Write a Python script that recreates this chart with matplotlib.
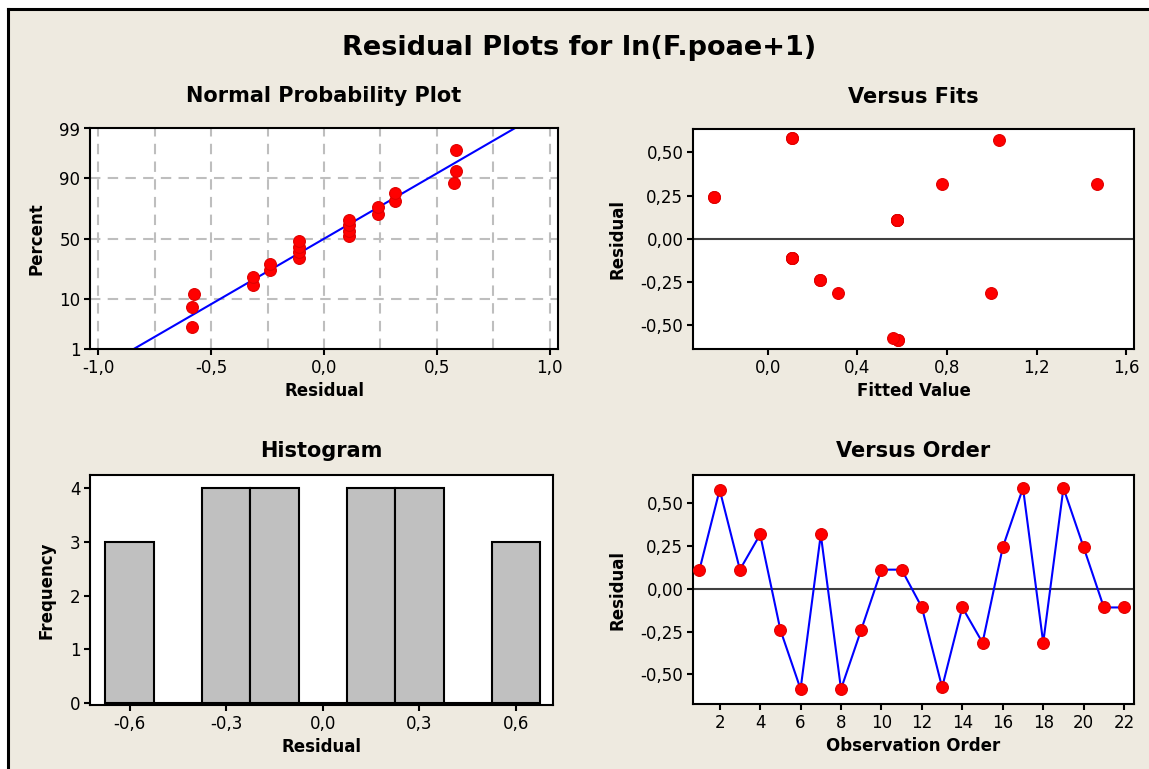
import math
import numpy as np
import matplotlib
matplotlib.use("Agg")
import matplotlib.pyplot as plt
from matplotlib.patches import Rectangle
from matplotlib.lines import Line2D
from matplotlib.ticker import FuncFormatter

# Residuals in observation order
residuals = [0.11, 0.575, 0.11, 0.315, -0.24, -0.585, 0.315, -0.585, -0.24, 0.11, 0.11,
             -0.11, -0.575, -0.11, -0.315, 0.24, 0.585, -0.315, 0.585, 0.24, -0.11, -0.11]
# Fitted values in observation order
fitted = [0.578, 1.033, 0.578, 0.776, 0.232, 0.581, 1.470, 0.581, 0.232, 0.578, 0.578,
          0.107, 0.557, 0.107, 0.312, -0.242, 0.107, 0.998, 0.107, -0.242, 0.107, 0.107]
observation = list(range(1, 23))

prob_ticks = [1, 10, 50, 90, 99]
hist_centers = [-0.6, -0.45, -0.3, -0.15, 0.0, 0.15, 0.3, 0.45, 0.6]

W, H = 1149, 769
BG = "#EEEAE0"
RED = "#FF0000"
BLUE = "#0000FF"

plt.rcParams["font.family"] = "DejaVu Sans"
plt.rcParams["axes.linewidth"] = 1.5


def norm_ppf(p):
    lo, hi = -10.0, 10.0
    for _ in range(100):
        mid = 0.5 * (lo + hi)
        if 0.5 * (1 + math.erf(mid / math.sqrt(2))) < p:
            lo = mid
        else:
            hi = mid
    return 0.5 * (lo + hi)


def comma(fmt):
    return FuncFormatter(lambda v, pos: format(v, fmt).replace(".", ",").replace("-0,00", "0,00"))


fig = plt.figure(figsize=(W / 100, H / 100), dpi=100, facecolor="white")

# panel background and frame
fig.add_artist(Rectangle((9 / W, 0), 1, 1 - 9 / H, transform=fig.transFigure,
                         facecolor=BG, edgecolor="none", zorder=-10))
fig.add_artist(Line2D([8 / W, 1], [1 - 8.5 / H, 1 - 8.5 / H], transform=fig.transFigure,
                      color="black", lw=2.2))
fig.add_artist(Line2D([8 / W, 8 / W], [0, 1 - 8.5 / H], transform=fig.transFigure,
                      color="black", lw=2.2))


def make_ax(l, t, r, b):
    ax = fig.add_axes([l / W, 1 - b / H, (r - l) / W, (b - t) / H])
    ax.set_facecolor("white")
    ax.tick_params(direction="out", length=4, width=1.5, labelsize=12, pad=3, color="black")
    return ax


LABEL = dict(fontsize=12, fontweight="bold")
TITLE = dict(fontsize=15, fontweight="bold")

fig.text(0.5 * (W + 9) / W, 1 - 55 / H, "Residual Plots for ln(F.poae+1)",
         ha="center", va="baseline", fontsize=19.5, fontweight="bold")

# ---------- Normal probability plot ----------
ax1 = make_ax(90, 128.5, 558, 349)
res = np.array(residuals)
n = len(res)
srt = np.sort(res)
ranks = np.arange(1, n + 1)
z_pts = np.array([norm_ppf((i - 0.3) / (n + 0.4)) for i in ranks])
z_lo, z_hi = norm_ppf(0.01), norm_ppf(0.99)
mu, sd = res.mean(), res.std(ddof=1)
for gx in np.arange(-1.0, 1.01, 0.25):
    ax1.axvline(gx, color="#BEBEBE", lw=1.5, ls=(0, (5, 3.5)), zorder=0)
for gp in [10, 50, 90]:
    ax1.axhline(norm_ppf(gp / 100), color="#BEBEBE", lw=1.5, ls=(0, (5, 3.5)), zorder=0)
zl = np.array([z_lo, z_hi])
ax1.plot(mu + sd * zl, zl, color=BLUE, lw=1.5, zorder=2)
ax1.plot(srt, z_pts, "o", ms=8.5, mfc=RED, mec="#E00000", mew=0.8, zorder=3)
ax1.set_xlim(-1.036, 1.036)
ax1.set_ylim(z_lo, z_hi)
ax1.set_yticks([norm_ppf(p / 100) for p in prob_ticks])
ax1.set_yticklabels([str(p) for p in prob_ticks])
ax1.set_xticks(np.arange(-1.0, 1.01, 0.5))
ax1.xaxis.set_major_formatter(comma(".1f"))
ax1.set_xlabel("Residual", labelpad=4, **LABEL)
ax1.set_ylabel("Percent", labelpad=10, **LABEL)
ax1.set_title("Normal Probability Plot", pad=19, **TITLE)

# ---------- Versus fits ----------
ax2 = make_ax(693, 129, 1134, 349)
ax2.axhline(0, color="#404040", lw=1.5, zorder=1)
ax2.plot(fitted, residuals, "o", ms=8.5, mfc=RED, mec="#E00000", mew=0.8, zorder=3)
ax2.set_xlim(-0.334, 1.634)
ax2.set_ylim(-0.64, 0.636)
ax2.set_xticks([0.0, 0.4, 0.8, 1.2, 1.6])
ax2.set_yticks([-0.5, -0.25, 0.0, 0.25, 0.5])
ax2.xaxis.set_major_formatter(comma(".1f"))
ax2.yaxis.set_major_formatter(comma(".2f"))
ax2.set_xlabel("Fitted Value", labelpad=4, **LABEL)
ax2.set_ylabel("Residual", labelpad=10, **LABEL)
ax2.set_title("Versus Fits", pad=19, **TITLE)

# ---------- Histogram ----------
ax3 = make_ax(90, 475, 553, 705)
width = 0.15
edges = np.append(np.array(hist_centers) - width / 2, hist_centers[-1] + width / 2)
counts, _ = np.histogram(res, bins=edges)
ax3.bar(hist_centers, counts, width=width, color="#C0C0C0", edgecolor="black", lw=1.5, zorder=2)
ax3.set_xlim(-0.723, 0.715)
ax3.set_ylim(-0.04, 4.25)
ax3.set_xticks([-0.6, -0.3, 0.0, 0.3, 0.6])
ax3.set_yticks([0, 1, 2, 3, 4])
ax3.xaxis.set_major_formatter(comma(".1f"))
ax3.set_xlabel("Residual", labelpad=4, **LABEL)
ax3.set_ylabel("Frequency", labelpad=10, **LABEL)
ax3.set_title("Histogram", pad=13, **TITLE)

# ---------- Versus order ----------
ax4 = make_ax(693, 475, 1134, 704)
ax4.axhline(0, color="#404040", lw=1.5, zorder=1)
ax4.plot(observation, residuals, "-", color=BLUE, lw=1.5, zorder=2)
ax4.plot(observation, residuals, "o", ms=8.5, mfc=RED, mec="#E00000", mew=0.8, zorder=3)
ax4.set_xlim(0.68, 22.49)
ax4.set_ylim(-0.672, 0.661)
ax4.set_xticks(range(2, 23, 2))
ax4.set_yticks([-0.5, -0.25, 0.0, 0.25, 0.5])
ax4.yaxis.set_major_formatter(comma(".2f"))
ax4.set_xlabel("Observation Order", labelpad=4, **LABEL)
ax4.set_ylabel("Residual", labelpad=10, **LABEL)
ax4.set_title("Versus Order", pad=13, **TITLE)

fig.savefig("out.png", dpi=100, facecolor="white")
